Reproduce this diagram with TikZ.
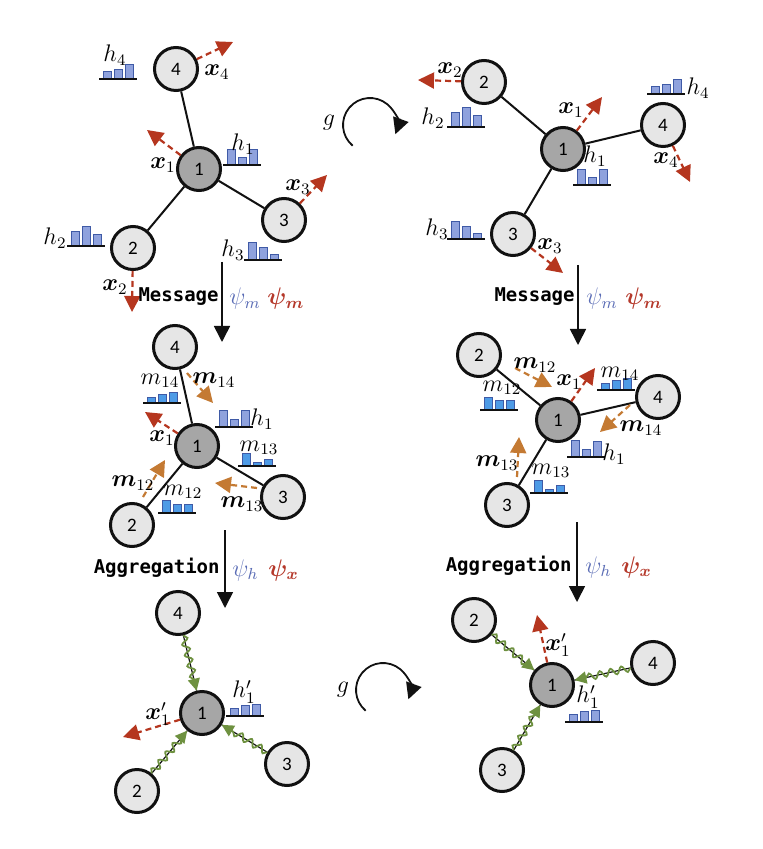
\documentclass[tikz,border=0pt]{standalone}
\usepackage{amsmath,bm}
\usepackage{fontspec}
\setmonofont{DejaVu Sans Mono}
\newfontfamily\numfont{Carlito}
\usetikzlibrary{arrows.meta,calc,decorations.pathmorphing}
\definecolor{Ink}{HTML}{111111}
\definecolor{NodeSoft}{HTML}{E6E6E6}
\definecolor{NodeDark}{HTML}{A6A6A6}
\definecolor{Rust}{HTML}{B5361F}
\definecolor{Amber}{HTML}{C47A33}
\definecolor{Leaf}{HTML}{6E9140}
\definecolor{Lavender}{HTML}{8FA2DD}
\definecolor{LavEdge}{HTML}{3F5AA6}
\definecolor{Sky}{HTML}{4E9BE6}
\definecolor{PsiBlue}{HTML}{5A6CB5}
\definecolor{PsiRed}{HTML}{B5392B}
\tikzset{
  vtx/.style={circle,draw=Ink,line width=1.5pt,fill=NodeSoft,minimum size=21.5pt,inner sep=0pt,font=\numfont\fontsize{9.5}{10}\selectfont},
  vtxc/.style={vtx,fill=NodeDark},
  edge/.style={draw=Ink,line width=1pt},
  lab/.style={inner sep=0pt,font=\fontsize{12}{14}\selectfont},
  stage/.style={inner sep=0pt,font=\ttfamily\bfseries\fontsize{9.5}{11}\selectfont},
  stageArrow/.style={-{Triangle[length=8pt,width=8pt]},line width=0.8pt,draw=Ink},
  posArrow/.style={-{Triangle[length=8pt,width=8pt]},line width=1.1pt,draw=Rust,dash pattern=on 3pt off 2pt},
  msgArrow/.style={posArrow,draw=Amber},
  aggLine/.style={draw=Ink,line width=0.6pt},
  aggArrow/.style={draw=Leaf,line width=0.9pt,decorate,decoration={snake,amplitude=1.7pt,segment length=5.5pt,post length=5pt},-{Triangle[length=6pt,width=6pt]}},
  hbar/.style={draw=LavEdge,fill=Lavender,line width=0.4pt},
  mbar/.style={draw=LavEdge,fill=Sky,line width=0.4pt},
  gArrow/.style={-{Triangle[length=8pt,width=8pt]},line width=0.9pt,draw=Ink}
}
% three-bar feature histogram: style, baseline left, bar heights
\newcommand{\histo}[5]{%
  \begin{scope}[shift={(#2)}]
    \draw[#1] (4,0) rectangle ++(8,-#3);
    \draw[#1] (15,0) rectangle ++(8,-#4);
    \draw[#1] (26,0) rectangle ++(8,-#5);
    \draw[draw=Ink,line width=0.6pt] (0,0) -- (38,0);
  \end{scope}}
\begin{document}
\begin{tikzpicture}[x=0.5pt,y=-0.5pt]
  \useasboundingbox (0,0) rectangle (763,849);
  % top left: input graph
  \node[vtx] (a4) at (176,69) {4};
  \node[vtxc] (a1) at (199,169) {1};
  \node[vtx] (a3) at (284,220) {3};
  \node[vtx] (a2) at (133,248) {2};
  \draw[edge] (a1)--(a4); \draw[edge] (a1)--(a3); \draw[edge] (a1)--(a2);
  \coordinate (a4v) at (233,42); \coordinate (a1v) at (147,130); \coordinate (a3v) at (327,175); \coordinate (a2v) at (132,312);
  \draw[posArrow] (a4)--(a4v); \draw[posArrow] (a1)--(a1v); \draw[posArrow] (a3)--(a3v); \draw[posArrow] (a2)--(a2v);
  \node[lab] (ax4) at (217,72) {$\bm{x}_4$};
  \node[lab] (ax1) at (163,165) {$\bm{x}_1$};
  \node[lab] (ax3) at (298,187) {$\bm{x}_3$};
  \node[lab] (ax2) at (115,287) {$\bm{x}_2$};
  \histo{hbar}{99,79}{8}{10}{15} \node[lab] (ah4) at (115,55) {$h_4$};
  \histo{hbar}{223,165}{16}{8}{16} \node[lab] (ah1) at (243,144) {$h_1$};
  \histo{hbar}{244,260}{18}{13}{6} \node[lab] (ah3) at (233,250) {$h_3$};
  \histo{hbar}{67,246}{15}{20}{12} \node[lab] (ah2) at (55,238) {$h_2$};
  % top right: rotated graph
  \node[vtx] (b2) at (484,82) {2};
  \node[vtxc] (b1) at (563,149) {1};
  \node[vtx] (b4) at (663,125) {4};
  \node[vtx] (b3) at (513,234) {3};
  \draw[edge] (b1)--(b2); \draw[edge] (b1)--(b4); \draw[edge] (b1)--(b3);
  \coordinate (b2v) at (418,80); \coordinate (b1v) at (602,97); \coordinate (b4v) at (690,182); \coordinate (b3v) at (563,273);
  \draw[posArrow] (b2)--(b2v); \draw[posArrow] (b1)--(b1v); \draw[posArrow] (b4)--(b4v); \draw[posArrow] (b3)--(b3v);
  \node[lab] (bx2) at (450,70) {$\bm{x}_2$};
  \node[lab] (bx1) at (571,110) {$\bm{x}_1$};
  \node[lab] (bx4) at (666,160) {$\bm{x}_4$};
  \node[lab] (bx3) at (550,246) {$\bm{x}_3$};
  \histo{hbar}{447,127}{15}{20}{12} \node[lab] (bh2) at (433,118) {$h_2$};
  \histo{hbar}{573,185}{16}{8}{16} \node[lab] (bh1) at (595,156) {$h_1$};
  \histo{hbar}{647,94}{8}{10}{15} \node[lab] (bh4) at (698,88) {$h_4$};
  \histo{hbar}{447,239}{18}{13}{6} \node[lab] (bh3) at (437,229) {$h_3$};
  % g between the two columns
  \node[lab] (g1) at (329,123) {$g$};
  \coordinate (g1c) at (370,125);
  \draw[gArrow] (g1c) ++(130:27) arc[start angle=130,end angle=380,radius=27];
  \node[lab] (g2) at (343,690) {$g$};
  \coordinate (g2c) at (383,690);
  \draw[gArrow] (g2c) ++(130:27) arc[start angle=130,end angle=380,radius=27];
  % message step
  \coordinate (s1a) at (222,262); \coordinate (s1b) at (222,342);
  \draw[stageArrow] (s1a)--(s1b);
  \node[stage,anchor=east] (msgL) at (219,297) {Message};
  \node[lab,anchor=west,text=PsiBlue] (psiL1) at (229,299) {$\psi_m$};
  \node[lab,anchor=west,text=PsiRed] (psiL2) at (267,299) {$\bm{\psi_m}$};
  \coordinate (s2a) at (578,265); \coordinate (s2b) at (578,345);
  \draw[stageArrow] (s2a)--(s2b);
  \node[stage,anchor=east] (msgR) at (575,297) {Message};
  \node[lab,anchor=west,text=PsiBlue] (psiR1) at (586,299) {$\psi_m$};
  \node[lab,anchor=west,text=PsiRed] (psiR2) at (625,299) {$\bm{\psi_m}$};
  % middle left: messages
  \node[vtx] (c4) at (175,347) {4};
  \node[vtxc] (c1) at (197,446) {1};
  \node[vtx] (c3) at (283,497) {3};
  \node[vtx] (c2) at (132,525) {2};
  \draw[edge] (c1)--(c4); \draw[edge] (c1)--(c3); \draw[edge] (c1)--(c2);
  \coordinate (cm14a) at (187,373); \coordinate (cm14b) at (213,403);
  \coordinate (cm13a) at (257,488); \coordinate (cm13b) at (215,483);
  \coordinate (cm12a) at (143,497); \coordinate (cm12b) at (165,460);
  \draw[msgArrow] (cm14a)--(cm14b); \draw[msgArrow] (cm13a)--(cm13b); \draw[msgArrow] (cm12a)--(cm12b);
  \coordinate (c1v) at (145,412); \draw[posArrow] (c1)--(c1v);
  \node[lab] (cx1) at (162,438) {$\bm{x}_1$};
  \node[lab] (cm14) at (214,380) {$\bm{m}_{14}$};
  \node[lab] (cm13) at (242,504) {$\bm{m}_{13}$};
  \node[lab] (cm12) at (133,483) {$\bm{m}_{12}$};
  \histo{mbar}{143,403}{6}{9}{11} \node[lab] (cq14) at (160,381) {$m_{14}$};
  \histo{hbar}{215,427}{17}{8}{17} \node[lab] (ch1) at (262,419) {$h_1$};
  \histo{mbar}{238,466}{13}{4}{7} \node[lab] (cq13) at (259,448) {$m_{13}$};
  \histo{mbar}{158,513}{13}{9}{9} \node[lab] (cq12) at (183,492) {$m_{12}$};
  % middle right: messages
  \node[vtx] (d2) at (479,355) {2};
  \node[vtxc] (d1) at (558,420) {1};
  \node[vtx] (d4) at (658,397) {4};
  \node[vtx] (d3) at (507,505) {3};
  \draw[edge] (d1)--(d2); \draw[edge] (d1)--(d4); \draw[edge] (d1)--(d3);
  \coordinate (dm12a) at (515,368); \coordinate (dm12b) at (552,387);
  \coordinate (dm14a) at (630,405); \coordinate (dm14b) at (600,432);
  \coordinate (dm13a) at (517,477); \coordinate (dm13b) at (519,437);
  \draw[msgArrow] (dm12a)--(dm12b); \draw[msgArrow] (dm14a)--(dm14b); \draw[msgArrow] (dm13a)--(dm13b);
  \coordinate (d1v) at (595,368); \draw[posArrow] (d1)--(d1v);
  \node[lab] (dx1) at (569,382) {$\bm{x}_1$};
  \node[lab] (dm12) at (535,365) {$\bm{m}_{12}$};
  \node[lab] (dm14) at (641,428) {$\bm{m}_{14}$};
  \node[lab] (dm13) at (497,463) {$\bm{m}_{13}$};
  \histo{mbar}{597,390}{7}{10}{12} \node[lab] (dq14) at (620,374) {$m_{14}$};
  \histo{mbar}{480,410}{13}{10}{10} \node[lab] (dq12) at (502,388) {$m_{12}$};
  \histo{hbar}{567,457}{17}{8}{16} \node[lab] (dh1) at (614,454) {$h_1$};
  \histo{mbar}{530,493}{13}{4}{8} \node[lab] (dq13) at (551,471) {$m_{13}$};
  % aggregation step
  \coordinate (s3a) at (225,530); \coordinate (s3b) at (225,608);
  \draw[stageArrow] (s3a)--(s3b);
  \node[stage,anchor=east] (aggL) at (220,568) {Aggregation};
  \node[lab,anchor=west,text=PsiBlue] (psiL3) at (232,570) {$\psi_h$};
  \node[lab,anchor=west,text=PsiRed] (psiL4) at (268,570) {$\bm{\psi_x}$};
  \coordinate (s4a) at (577,522); \coordinate (s4b) at (577,602);
  \draw[stageArrow] (s4a)--(s4b);
  \node[stage,anchor=east] (aggR) at (572,566) {Aggregation};
  \node[lab,anchor=west,text=PsiBlue] (psiR3) at (585,567) {$\psi_h$};
  \node[lab,anchor=west,text=PsiRed] (psiR4) at (621,567) {$\bm{\psi_x}$};
  % bottom left: updated node
  \node[vtx] (e4) at (178,613) {4};
  \node[vtxc] (e1) at (202,713) {1};
  \node[vtx] (e3) at (287,764) {3};
  \node[vtx] (e2) at (137,791) {2};
  \draw[aggLine] (e4)--(e1); \draw[aggLine] (e3)--(e1); \draw[aggLine] (e2)--(e1);
  \draw[aggArrow] (e4)--(e1); \draw[aggArrow] (e3)--(e1); \draw[aggArrow] (e2)--(e1);
  \coordinate (e1v) at (123,737); \draw[posArrow] (e1)--(e1v);
  \node[lab] (ex1) at (158,714) {$\bm{x}'_1$};
  \histo{hbar}{226,716}{8}{11}{12} \node[lab] (eh1) at (244,692) {$h'_1$};
  % bottom right: updated node
  \node[vtx] (f2) at (474,620) {2};
  \node[vtxc] (f1) at (552,685) {1};
  \node[vtx] (f4) at (653,663) {4};
  \node[vtx] (f3) at (502,770) {3};
  \draw[aggLine] (f2)--(f1); \draw[aggLine] (f4)--(f1); \draw[aggLine] (f3)--(f1);
  \draw[aggArrow] (f2)--(f1); \draw[aggArrow] (f4)--(f1); \draw[aggArrow] (f3)--(f1);
  \coordinate (f1v) at (537,615); \draw[posArrow] (f1)--(f1v);
  \node[lab] (fx1) at (558,645) {$\bm{x}'_1$};
  \histo{hbar}{565,722}{8}{11}{12} \node[lab] (fh1) at (588,697) {$h'_1$};
\end{tikzpicture}
\end{document}
